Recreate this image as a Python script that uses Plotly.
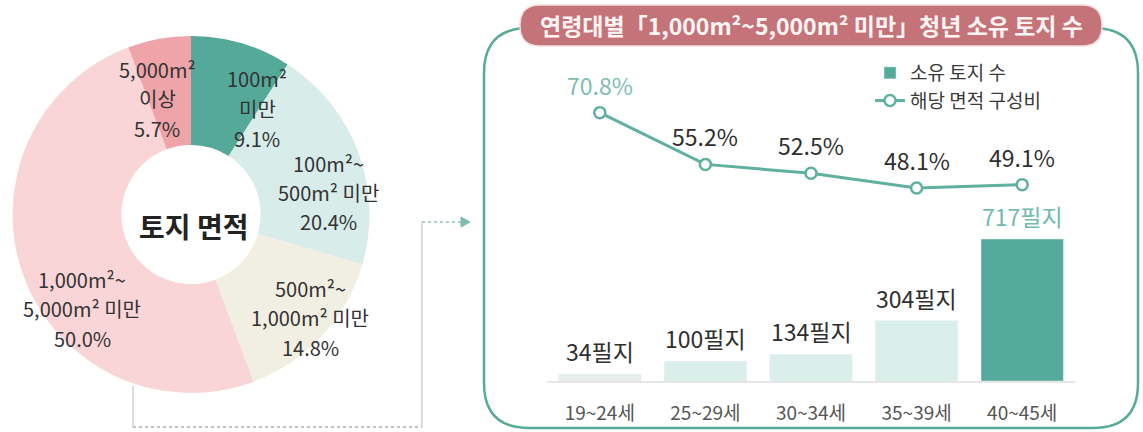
import plotly.graph_objects as go

# ---------------- data ----------------
area_labels = ["100m²\n미만", "100m²~\n500m² 미만", "500m²~\n1,000m² 미만",
               "1,000m²~\n5,000m² 미만", "5,000m²\n이상"]
area_shares = [9.1, 20.4, 14.8, 50.0, 5.7]

age_groups = ["19~24세", "25~29세", "30~34세", "35~39세", "40~45세"]
parcel_counts = [34, 100, 134, 304, 717]
share_pct = [70.8, 55.2, 52.5, 48.1, 49.1]

# ---------------- styling ----------------
W, H = 1143, 432
FONT = "Noto Sans CJK KR"
LINE_TEAL = "#5fb0a1"
pie_colors = ["#55a999", "#d8ecea", "#f1eee2", "#f9d5d8", "#eea4a9"]
bar_colors = ["#e6ecea", "#daeeea", "#daeeea", "#daeeea", "#55ab9b"]
bar_label_colors = ["#2f2f2f", "#2f2f2f", "#2f2f2f", "#2f2f2f", "#6fbcae"]
line_label_colors = ["#7dbdb2", "#2f2f2f", "#2f2f2f", "#2f2f2f", "#2f2f2f"]


def px(x):
    return x / W


def py(y):
    return 1 - y / H


fig = go.Figure()

# donut
fig.add_trace(go.Pie(
    values=area_shares,
    labels=[l.replace("\n", " ") for l in area_labels],
    marker=dict(colors=pie_colors, line=dict(width=0)),
    hole=0.39, sort=False, direction="clockwise", rotation=0,
    textinfo="none", showlegend=False,
    domain=dict(x=[px(12), px(370)], y=[py(393), py(36)]),
))

# bars (dark bar carries the legend entry)
last = len(age_groups) - 1
fig.add_trace(go.Bar(
    x=[age_groups[last]], y=[parcel_counts[last]],
    marker=dict(color=bar_colors[last]), name="소유 토지 수",
    showlegend=True,
))
fig.add_trace(go.Bar(
    x=age_groups[:last], y=parcel_counts[:last],
    marker=dict(color=bar_colors[:last]), name="소유 토지 수",
    showlegend=False,
))

# line
fig.add_trace(go.Scatter(
    x=age_groups, y=share_pct, yaxis="y2", mode="lines+markers",
    name="해당 면적 구성비",
    line=dict(color=LINE_TEAL, width=3),
    marker=dict(symbol="circle", size=11, color="white",
                line=dict(color=LINE_TEAL, width=2.5)),
))

annotations = []

# donut labels: one annotation per line (top line centre given)
pie_label_pos = [(257, 79), (328, 163), (310, 288), (82, 279), (157, 69)]
LINE_STEP = 29.5
for (cx, cy), lab, v in zip(pie_label_pos, area_labels, area_shares):
    lines = lab.split("\n") + [f"{v:.1f}%"]
    for i, t in enumerate(lines):
        annotations.append(dict(
            x=px(cx), y=py(cy + i * LINE_STEP), xref="paper", yref="paper",
            text=t, showarrow=False, xanchor="center", yanchor="middle",
            font=dict(family=FONT, size=20, color="#333333"),
        ))
annotations.append(dict(
    x=px(193), y=py(226), xref="paper", yref="paper", text="<b>토지 면적</b>",
    showarrow=False, xanchor="center", yanchor="middle",
    font=dict(family=FONT, size=28, color="#222222"),
))

# bar value labels
for g, v, c in zip(age_groups, parcel_counts, bar_label_colors):
    annotations.append(dict(
        x=g, y=v, xref="x", yref="y", yshift=23, text=f"{v}필지",
        showarrow=False, yanchor="middle", xanchor="center",
        font=dict(family=FONT, size=23, color=c),
    ))

# line value labels
for g, v, c in zip(age_groups, share_pct, line_label_colors):
    annotations.append(dict(
        x=g, y=v, xref="x", yref="y2", yshift=28, text=f"{v:.1f}%",
        showarrow=False, yanchor="middle", xanchor="center",
        font=dict(family=FONT, size=23, color=c),
    ))

# title pill text
annotations.append(dict(
    x=px(811), y=py(25), xref="paper", yref="paper",
    text="<b>연령대별「1,000m²~5,000m² 미만」청년 소유 토지 수</b>",
    showarrow=False, xanchor="center", yanchor="middle",
    font=dict(family=FONT, size=23, color="#fff4f4"),
))


def rrect(x0, y0, x1, y1, r):
    X0, X1 = px(x0), px(x1)
    Y0, Y1 = py(y0), py(y1)
    rx, ry = r / W, r / H
    return (f"M {X0+rx},{Y0} L {X1-rx},{Y0} Q {X1},{Y0} {X1},{Y0-ry} "
            f"L {X1},{Y1+ry} Q {X1},{Y1} {X1-rx},{Y1} "
            f"L {X0+rx},{Y1} Q {X0},{Y1} {X0},{Y1+ry} "
            f"L {X0},{Y0-ry} Q {X0},{Y0} {X0+rx},{Y0} Z")


shapes = [
    # panel outline
    dict(type="path", xref="paper", yref="paper", path=rrect(484, 28, 1138, 428, 45),
         line=dict(color="#5aaa9a", width=2.5), fillcolor="rgba(0,0,0,0)", layer="below"),
    # title pill
    dict(type="path", xref="paper", yref="paper", path=rrect(520, 5, 1102, 46, 20),
         line=dict(color="#f3dede", width=1.5), fillcolor="#c47479", layer="below"),
    # connector
    dict(type="line", xref="paper", yref="paper", x0=px(133), y0=py(386), x1=px(133), y1=py(427),
         line=dict(color="#b8b8b8", width=1)),
    dict(type="line", xref="paper", yref="paper", x0=px(133), y0=py(427), x1=px(422), y1=py(427),
         line=dict(color="#b0b0b0", width=1.5, dash="dot")),
    dict(type="line", xref="paper", yref="paper", x0=px(422), y0=py(427), x1=px(422), y1=py(222),
         line=dict(color="#b8b8b8", width=1)),
    dict(type="line", xref="paper", yref="paper", x0=px(422), y0=py(222), x1=px(461), y1=py(222),
         line=dict(color="#8cc4ba", width=1.5, dash="dot")),
    dict(type="path", xref="paper", yref="paper",
         path=f"M {px(461)},{py(217)} L {px(470)},{py(222)} L {px(461)},{py(227)} Z",
         line=dict(color="#7fbcb1", width=1), fillcolor="#7fbcb1"),
]

fig.update_layout(
    width=W, height=H,
    margin=dict(l=0, r=0, t=0, b=0),
    paper_bgcolor="white", plot_bgcolor="white",
    font=dict(family=FONT, color="#333333"),
    barmode="overlay", bargap=0.22,
    xaxis=dict(domain=[px(547), px(1075)], categoryorder="array", categoryarray=age_groups,
               showgrid=False, showline=True, linecolor="#e6e6e6", linewidth=2,
               ticks="", ticklabelstandoff=14,
               tickfont=dict(family=FONT, size=19, color="#555555"), fixedrange=True),
    yaxis=dict(domain=[py(381), py(60)], range=[0, 717 * 321 / 142], visible=False,
               fixedrange=True),
    yaxis2=dict(overlaying="y", range=[-10.1, 86.67], visible=False, fixedrange=True),
    legend=dict(x=px(870), y=py(54), xanchor="left", yanchor="top",
                font=dict(family=FONT, size=19, color="#3a3a3a"),
                bgcolor="rgba(0,0,0,0)", traceorder="normal"),
    annotations=annotations,
    shapes=shapes,
)

fig.write_html(
    "out.html",
    config={"displayModeBar": False},
    post_script="document.body.style.margin='0';document.body.style.overflow='hidden';",
)
